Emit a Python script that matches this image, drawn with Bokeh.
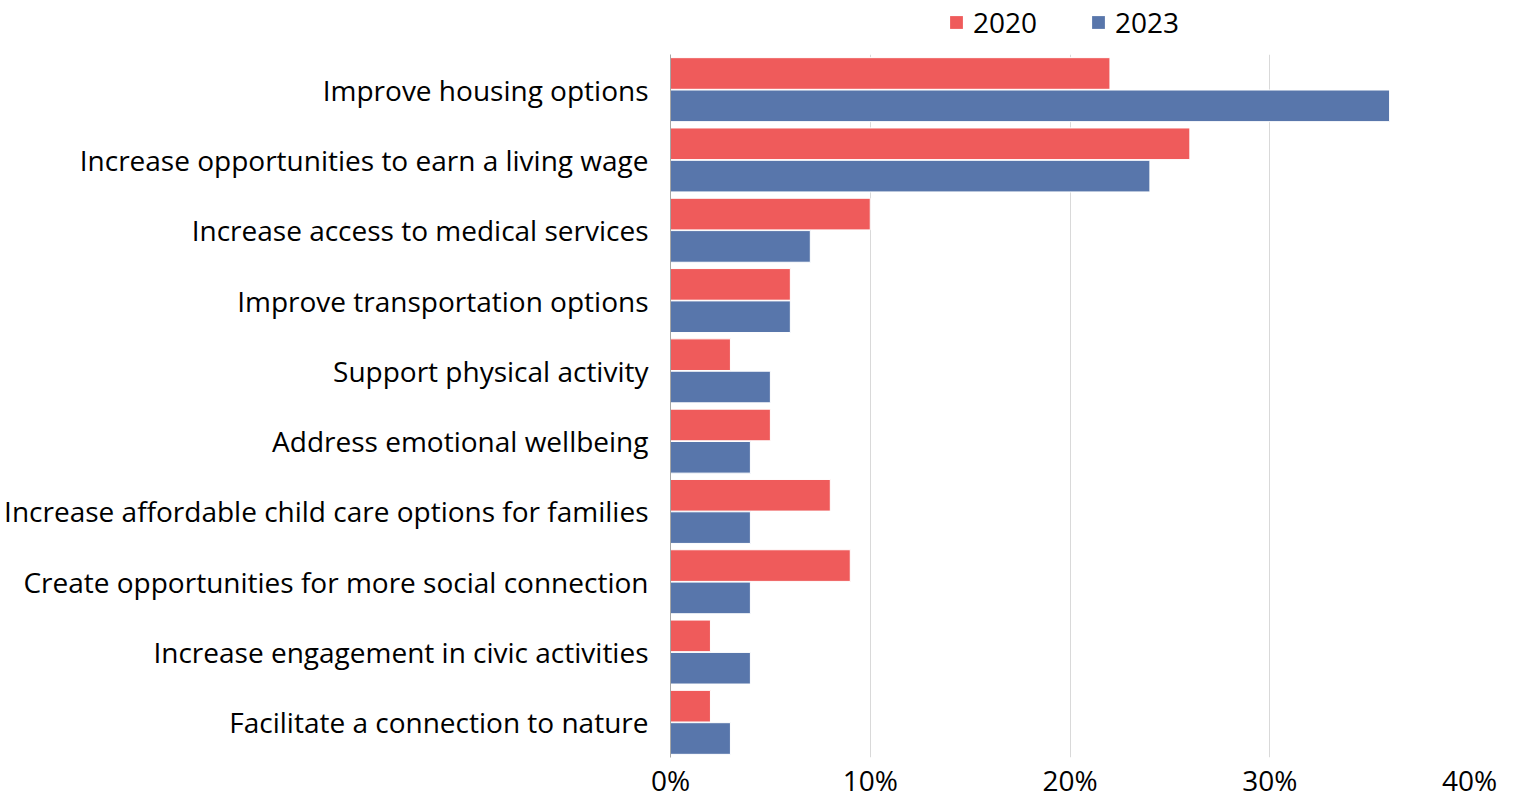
from bokeh.plotting import figure
from bokeh.layouts import column
from bokeh.models import ColumnDataSource, FactorRange, Range1d, Legend, LegendItem, PrintfTickFormatter, FixedTicker
from bokeh.transform import dodge
from bokeh.embed import file_html
from bokeh.resources import INLINE

categories = [
    "Improve housing options",
    "Increase opportunities to earn a living wage",
    "Increase access to medical services",
    "Improve transportation options",
    "Support physical activity",
    "Address emotional wellbeing",
    "Increase affordable child care options for families",
    "Create opportunities for more social connection",
    "Increase engagement in civic activities",
    "Facilitate a connection to nature",
]
values_2020 = [22, 26, 10, 6, 3, 5, 8, 9, 2, 2]
values_2023 = [36, 24, 7, 6, 5, 4, 4, 4, 4, 3]
series_names = ["2020", "2023"]
x_ticks = [0, 10, 20, 30, 40]

FONT = "Open Sans"
RED = "#EF5B5B"
BLUE = "#5876AB"
W = 1505

src = ColumnDataSource(dict(cat=categories, v2020=values_2020, v2023=values_2023))

# ---- legend strip (swatch renderers sit outside its visible range) ----
lg = figure(width=W, height=54, x_range=Range1d(0, 1), y_range=Range1d(0, 1),
            output_backend="svg", toolbar_location=None,
            min_border_left=0, min_border_right=0, min_border_top=0, min_border_bottom=0)
lg.axis.visible = False
lg.grid.grid_line_color = None
lg.outline_line_color = None
swatch = ColumnDataSource(dict(y=[-5], right=[0]))
d1 = lg.hbar(y="y", right="right", left=0, height=0.5, source=swatch, fill_color=RED, line_color=None)
d2 = lg.hbar(y="y", right="right", left=0, height=0.5, source=swatch, fill_color=BLUE, line_color=None)
legend = Legend(
    items=[LegendItem(label=series_names[0], renderers=[d1]),
           LegendItem(label=series_names[1], renderers=[d2])],
    orientation="horizontal",
    location=(278, 13),
    glyph_width=16, glyph_height=16,
    label_text_font=FONT, label_text_font_size="28px", label_text_color="#000000",
    label_standoff=9, spacing=53, padding=0, margin=0,
    border_line_color=None, background_fill_alpha=0,
)
lg.add_layout(legend, "center")

# ---- main chart ----
p = figure(
    width=W, height=747,
    y_range=FactorRange(factors=list(reversed(categories)), range_padding=0),
    x_range=Range1d(0, 40),
    output_backend="svg", toolbar_location=None,
    min_border_left=670, min_border_right=36, min_border_top=0, min_border_bottom=41,
)
p.outline_line_color = None

p.hbar(y=dodge("cat", 0.23, range=p.y_range), right="v2020", left=0, height=0.45,
       source=src, fill_color=RED, line_color="white", line_width=1)
p.hbar(y=dodge("cat", -0.23, range=p.y_range), right="v2023", left=0, height=0.45,
       source=src, fill_color=BLUE, line_color="white", line_width=1)

p.xgrid.grid_line_color = "#D9D9D9"
p.xgrid.grid_line_width = 1
p.ygrid.grid_line_color = None

p.xaxis.ticker = FixedTicker(ticks=x_ticks)
p.xaxis.formatter = PrintfTickFormatter(format="%d%%")
p.xaxis.axis_line_color = None
p.xaxis.major_tick_line_color = None
p.xaxis.minor_tick_line_color = None
p.xaxis.major_tick_out = 0
p.xaxis.major_tick_in = 0
p.xaxis.major_label_standoff = 3
p.xaxis.major_label_text_font = FONT
p.xaxis.major_label_text_font_size = "28px"
p.xaxis.major_label_text_color = "#000000"

p.yaxis.axis_line_color = "#A6A6A6"
p.yaxis.major_tick_line_color = None
p.yaxis.minor_tick_line_color = None
p.yaxis.major_tick_out = 0
p.yaxis.major_tick_in = 0
p.yaxis.major_label_standoff = 22
p.yaxis.major_label_text_font = FONT
p.yaxis.major_label_text_font_size = "28px"
p.yaxis.major_label_text_color = "#000000"

layout = column(lg, p, spacing=0)
open("out.html", "w").write(file_html(layout, INLINE))
